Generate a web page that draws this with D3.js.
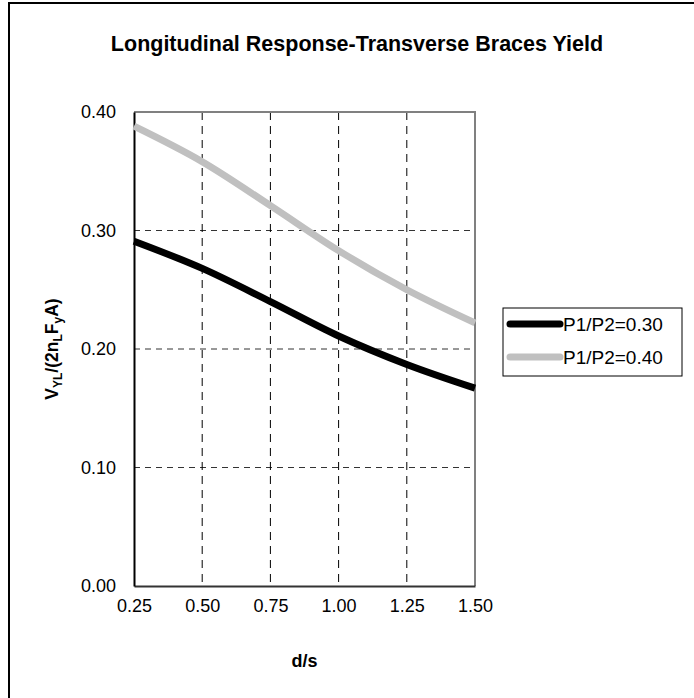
<!DOCTYPE html>
<html>
<head>
<meta charset="utf-8">
<script src="https://cdn.jsdelivr.net/npm/d3@7"></script>
<style>
  html, body { margin: 0; padding: 0; background: #fff; }
  svg { display: block; font-family: Arial, "Liberation Sans", sans-serif; }
</style>
</head>
<body>
<svg id="chart" width="694" height="698"></svg>
<script>
// d/s ratios along the x axis
const ratios = [0.25, 0.50, 0.75, 1.00, 1.25, 1.50];
// normalized longitudinal yield shear for each P1/P2 ratio
const seriesP030 = [0.291, 0.268, 0.240, 0.211, 0.187, 0.167];
const seriesP040 = [0.388, 0.358, 0.321, 0.283, 0.250, 0.222];
const seriesNames = ["P1/P2=0.30", "P1/P2=0.40"];
const xTicks = [0.25, 0.50, 0.75, 1.00, 1.25, 1.50];
const yTicks = [0.00, 0.10, 0.20, 0.30, 0.40];

const series = [
  { name: seriesNames[0], values: seriesP030, color: "#000000" },
  { name: seriesNames[1], values: seriesP040, color: "#c0c0c0" }
];

const svg = d3.select("#chart");
const plot = { left: 134, top: 112, right: 475, bottom: 586 };

const x = d3.scaleLinear().domain([0.25, 1.5]).range([plot.left, plot.right]);
const y = d3.scaleLinear().domain([0, 0.4]).range([plot.bottom, plot.top]);

// outer chart frame
svg.append("rect")
  .attr("x", 9).attr("y", 3).attr("width", 720).attr("height", 720)
  .attr("fill", "none").attr("stroke", "#000").attr("stroke-width", 2);

// title
svg.append("text")
  .attr("x", 357).attr("y", 51)
  .attr("text-anchor", "middle")
  .attr("font-size", 21.5).attr("font-weight", "bold")
  .text("Longitudinal Response-Transverse Braces Yield");

// horizontal gridlines
svg.append("g").selectAll("line")
  .data(yTicks.filter(d => d > 0 && d < 0.4))
  .join("line")
  .attr("x1", plot.left).attr("x2", plot.right)
  .attr("y1", d => y(d)).attr("y2", d => y(d))
  .attr("stroke", "#333").attr("stroke-width", 1)
  .attr("stroke-dasharray", "6,5");

// vertical gridlines
svg.append("g").selectAll("line")
  .data(xTicks.filter(d => d > 0.25 && d < 1.5))
  .join("line")
  .attr("x1", d => x(d)).attr("x2", d => x(d))
  .attr("y1", plot.top).attr("y2", plot.bottom)
  .attr("stroke", "#000").attr("stroke-width", 1)
  .attr("stroke-dasharray", "8,6");

// plot area border (top/right gray)
svg.append("path")
  .attr("d", `M${plot.left},${plot.top}H${plot.right}V${plot.bottom}`)
  .attr("fill", "none").attr("stroke", "#808080").attr("stroke-width", 2);

// axes
const xAxis = d3.axisBottom(x).tickValues(xTicks).tickSize(0).tickPadding(13)
  .tickFormat(d3.format(".2f"));
const yAxis = d3.axisLeft(y).tickValues(yTicks).tickSize(0).tickPadding(18)
  .tickFormat(d3.format(".2f"));

const gx = svg.append("g").attr("transform", `translate(0,${plot.bottom})`).call(xAxis);
const gy = svg.append("g").attr("transform", `translate(${plot.left},0)`).call(yAxis);
gx.select(".domain").attr("stroke", "#333").attr("stroke-width", 2);
gy.select(".domain").attr("stroke", "#000").attr("stroke-width", 2);
[gx, gy].forEach(g => g.selectAll("text")
  .attr("font-size", 18).attr("fill", "#000")
  .attr("font-family", "Arial, 'Liberation Sans', sans-serif"));

// series lines
const line = d3.line()
  .x((d, i) => x(ratios[i]))
  .y(d => y(d))
  .curve(d3.curveMonotoneX);

svg.append("g").selectAll("path")
  .data(series.slice().reverse())
  .join("path")
  .attr("d", d => line(d.values))
  .attr("fill", "none")
  .attr("stroke", d => d.color)
  .attr("stroke-width", 7)
  .attr("stroke-linecap", "butt");

// axis titles
svg.append("text")
  .attr("x", plot.left + (plot.right - plot.left) / 2).attr("y", 667)
  .attr("text-anchor", "middle")
  .attr("font-size", 18).attr("font-weight", "bold")
  .text("d/s");

const yTitle = svg.append("text")
  .attr("transform", `translate(58,${(plot.top + plot.bottom) / 2}) rotate(-90)`)
  .attr("text-anchor", "middle")
  .attr("font-size", 17.5).attr("font-weight", "bold");
yTitle.append("tspan").text("V");
yTitle.append("tspan").attr("font-size", 12).attr("dy", 4).text("YL");
yTitle.append("tspan").attr("dy", -4).text("/(2n");
yTitle.append("tspan").attr("font-size", 12).attr("dy", 4).text("L");
yTitle.append("tspan").attr("dy", -4).text("F");
yTitle.append("tspan").attr("font-size", 12).attr("dy", 4).text("y");
yTitle.append("tspan").attr("dy", -4).text("A)");

// legend
const legend = svg.append("g");
legend.append("rect")
  .attr("x", 503).attr("y", 308).attr("width", 179).attr("height", 68)
  .attr("fill", "#fff").attr("stroke", "#000").attr("stroke-width", 1);
const items = legend.selectAll("g.item")
  .data(series).join("g").attr("class", "item")
  .attr("transform", (d, i) => `translate(0,${324 + i * 33})`);
items.append("line")
  .attr("x1", 510).attr("x2", 560)
  .attr("stroke", d => d.color).attr("stroke-width", 7)
  .attr("stroke-linecap", "round");
items.append("text")
  .attr("x", 563).attr("y", 7)
  .attr("font-size", 19)
  .text(d => d.name);
</script>
</body>
</html>
